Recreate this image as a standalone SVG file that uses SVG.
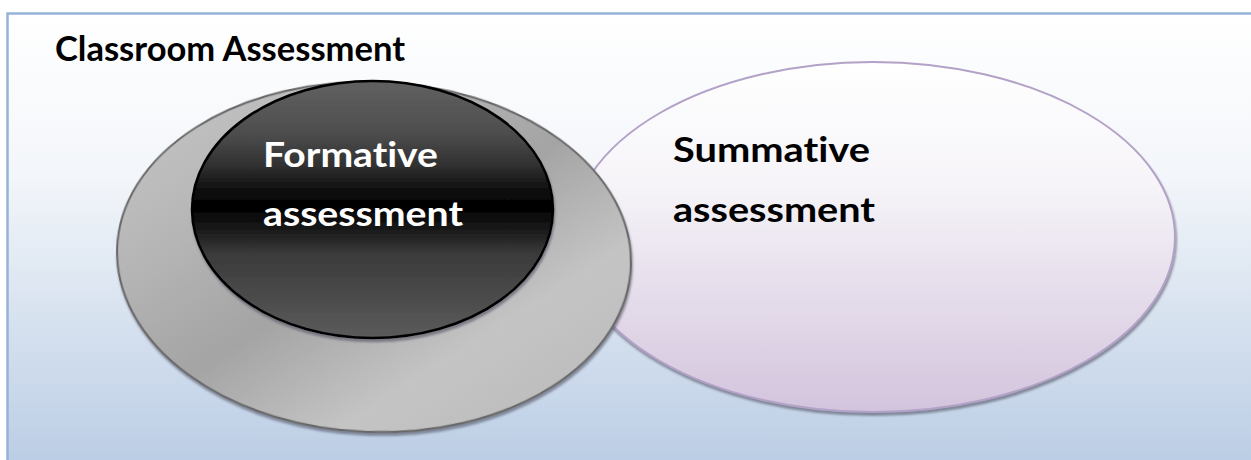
<svg xmlns="http://www.w3.org/2000/svg" width="1251" height="460" viewBox="0 0 1251 460">
  <defs>
    <linearGradient id="bgFill" x1="0" y1="0" x2="0" y2="1">
      <stop offset="0" stop-color="#ffffff"/>
      <stop offset="0.35" stop-color="#f3f6fa"/>
      <stop offset="1" stop-color="#b9cce4"/>
    </linearGradient>
    <linearGradient id="lavFill" x1="0" y1="0" x2="0" y2="1">
      <stop offset="0" stop-color="#ffffff"/>
      <stop offset="0.35" stop-color="#f6f4f8"/>
      <stop offset="1" stop-color="#d3c4dd"/>
    </linearGradient>
    <linearGradient id="grayFill" x1="0" y1="0" x2="1" y2="1">
      <stop offset="0" stop-color="#c8c8c8"/>
      <stop offset="0.28" stop-color="#b6b6b6"/>
      <stop offset="0.5" stop-color="#a4a4a4"/>
      <stop offset="0.72" stop-color="#c4c4c4"/>
      <stop offset="1" stop-color="#b8b8b8"/>
    </linearGradient>
    <linearGradient id="darkFill" x1="0" y1="0" x2="0" y2="1">
      <stop offset="0" stop-color="#616161"/>
      <stop offset="0.2" stop-color="#4e4e4e"/>
      <stop offset="0.33" stop-color="#303030"/>
      <stop offset="0.42" stop-color="#101010"/>
      <stop offset="0.49" stop-color="#000000"/>
      <stop offset="0.58" stop-color="#1a1a1a"/>
      <stop offset="0.67" stop-color="#3a3a3a"/>
      <stop offset="1" stop-color="#5b5b5b"/>
    </linearGradient>
    <filter id="shadow" x="-5%" y="-5%" width="110%" height="115%">
      <feDropShadow dx="1" dy="3" stdDeviation="0.8" flood-color="#4a4a5a" flood-opacity="0.55"/>
    </filter>
  </defs>
  <style>
    .label { font-family: Lato, "Open Sans", "Liberation Sans", sans-serif; font-weight: bold; font-size: 34px; font-variant-ligatures: none; font-feature-settings: "liga" 0, "dlig" 0; }
    .dark { fill: #000000; }
    .light { fill: #ffffff; }
  </style>

  <!-- outer frame: Classroom Assessment -->
  <g id="classroom-assessment">
    <rect x="7.5" y="13.5" width="1260" height="460" fill="url(#bgFill)" stroke="#95b3d7" stroke-width="2.5"/>
    <text class="label dark" x="55" y="61" textLength="350" lengthAdjust="spacingAndGlyphs">Classroom Assessment</text>
  </g>

  <!-- summative assessment -->
  <g id="summative">
    <ellipse cx="873" cy="237" rx="302" ry="175" fill="url(#lavFill)" stroke="#b3a2c7" stroke-width="2" filter="url(#shadow)"/>
    <text class="label dark" x="673" y="162" textLength="197" lengthAdjust="spacingAndGlyphs">Summative</text>
    <text class="label dark" x="673" y="222" textLength="202" lengthAdjust="spacingAndGlyphs">assessment</text>
  </g>

  <!-- outer gray ring around formative assessment -->
  <g id="formative-ring">
    <ellipse cx="374" cy="257" rx="257" ry="175" transform="rotate(2 374 257)" fill="url(#grayFill)" stroke="#666666" stroke-width="2" filter="url(#shadow)"/>
  </g>
  <g id="formative">
    <ellipse cx="372.5" cy="209.5" rx="180.5" ry="128.5" fill="url(#darkFill)" stroke="#000000" stroke-width="2.5" filter="url(#shadow)"/>
    <text class="label light" x="263" y="167" textLength="175" lengthAdjust="spacingAndGlyphs">Formative</text>
    <text class="label light" x="263" y="226" textLength="200" lengthAdjust="spacingAndGlyphs">assessment</text>
  </g>
</svg>
